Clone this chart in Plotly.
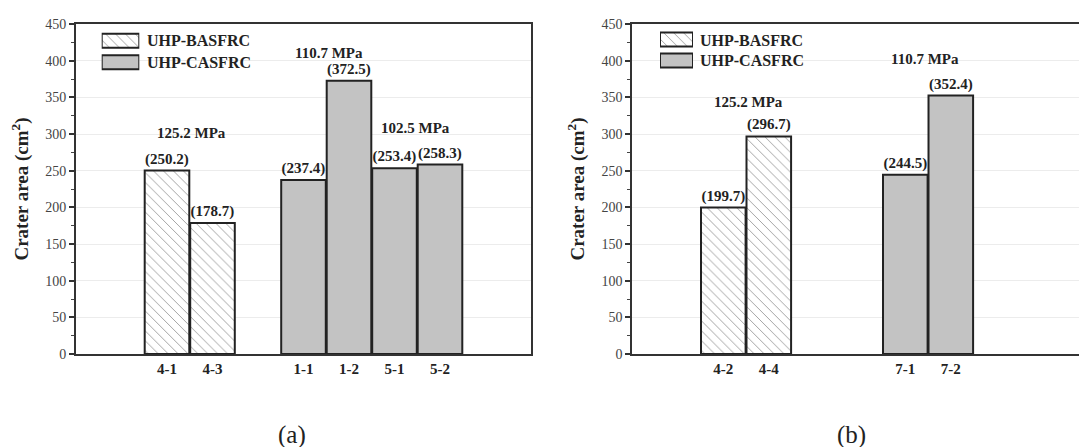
import plotly.graph_objects as go

# ---- data -------------------------------------------------------------
# Panel (a)
a_bas_labels = ["4-1", "4-3"]
a_bas_values = [250.2, 178.7]
a_cas_labels = ["1-1", "1-2", "5-1", "5-2"]
a_cas_values = [237.4, 372.5, 253.4, 258.3]

# Panel (b)
b_bas_labels = ["4-2", "4-4"]
b_bas_values = [199.7, 296.7]
b_cas_labels = ["7-1", "7-2"]
b_cas_values = [244.5, 352.4]

series_names = ["UHP-BASFRC", "UHP-CASFRC"]
y_ticks = [0, 50, 100, 150, 200, 250, 300, 350, 400, 450]

# ---- geometry / styling ----------------------------------------------
W, H = 1079, 447
FONT = "Liberation Serif"
DARK = "#222222"
GREY_FILL = "#c3c3c3"
UNIT_PX = 45.5  # pixels per bar slot


def px_x(p):
    return p / W


def px_y(p):
    return 1 - p / H


def slots(first, n1, gap, n2):
    """x slot positions of two adjacent bar groups separated by `gap` empty slots."""
    g1 = [first + i for i in range(n1)]
    start2 = g1[-1] + 1 + gap
    g2 = [start2 + i for i in range(n2)]
    return g1, g2


a_x1, a_x2 = slots(2, len(a_bas_labels), 1, len(a_cas_labels))
b_x1, b_x2 = slots(2, len(b_bas_labels), 2, len(b_cas_labels))

hatch = dict(shape="\\", fgcolor="#9c9c9c", bgcolor="white", size=7, solidity=0.13)
bar_line = dict(color=DARK, width=2)
val_font = dict(family=FONT, size=15, color=DARK)

fig = go.Figure()


def add_bars(xs, vals, xa, ya, hatched):
    marker = dict(line=bar_line)
    if hatched:
        marker.update(color="white", pattern=hatch)
    else:
        marker.update(color=GREY_FILL)
    fig.add_trace(go.Bar(
        x=xs, y=vals, width=0.98, xaxis=xa, yaxis=ya,
        marker=marker,
        text=[f"<b>({v})</b>" for v in vals],
        textposition="outside", constraintext="none", cliponaxis=False,
        textfont=val_font, showlegend=False, hoverinfo="x+y",
    ))


add_bars(a_x1, a_bas_values, "x", "y", True)
add_bars(a_x2, a_cas_values, "x", "y", False)
add_bars(b_x1, b_bas_values, "x2", "y2", True)
add_bars(b_x2, b_cas_values, "x2", "y2", False)

# legend keys drawn as bars on small helper axes
for xa, ya in (("x3", "y3"), ("x4", "y4")):
    fig.add_trace(go.Bar(x=[1], y=[1], orientation="h", width=0.66, xaxis=xa, yaxis=ya,
                         marker=dict(color="white", pattern=hatch, line=bar_line),
                         showlegend=False, hoverinfo="skip"))
    fig.add_trace(go.Bar(x=[1], y=[0], orientation="h", width=0.66, xaxis=xa, yaxis=ya,
                         marker=dict(color=GREY_FILL, line=bar_line),
                         showlegend=False, hoverinfo="skip"))

# ---- axes ---------------------------------------------------------------
a_left, a_right = 76, 531
b_left = 632.3
top, bottom = 24, 354

ydom = [px_y(bottom), px_y(top)]


def y_axis(mirror):
    return dict(
        domain=ydom, range=[0, 450], tickvals=y_ticks,
        showline=True, linecolor="#333333", linewidth=2, mirror=mirror,
        ticks="outside", ticklen=5, tickwidth=1.5, tickcolor="#333333",
        minor=dict(dtick=25, ticks="outside", ticklen=3, tickwidth=1, tickcolor="#444444", showgrid=False),
        showgrid=True, gridcolor="#ececec", gridwidth=1,
        tickfont=dict(family=FONT, size=14, color="#444444"),
        title=dict(text="<b>Crater area (cm<sup>2</sup>)</b>",
                   font=dict(family=FONT, size=19, color=DARK), standoff=12),
        zeroline=False, automargin=False, fixedrange=True,
    )


def x_axis(dom, rng, vals, labels):
    return dict(
        domain=dom, range=rng, tickvals=vals, ticktext=[f"<b>{t}</b>" for t in labels],
        showline=True, linecolor="#333333", linewidth=2, mirror=True,
        ticks="", showgrid=False, zeroline=False, automargin=False,
        tickfont=dict(family=FONT, size=15, color=DARK), fixedrange=True,
    )


def key_axes(x0, x1, ytop, ybot):
    common = dict(visible=False, showticklabels=False, fixedrange=True, showgrid=False, zeroline=False)
    xa = dict(domain=[px_x(x0), px_x(x1)], range=[0, 1], **common)
    ya = dict(domain=[px_y(ybot), px_y(ytop)], range=[-0.5, 1.5], **common)
    return xa, ya


k3x, k3y = key_axes(101.7, 139.3, 30.0, 73.0)
k4x, k4y = key_axes(660.0, 693.0, 29.0, 71.0)

b_range_max = (W - b_left) / UNIT_PX

fig.update_layout(
    width=W, height=H, margin=dict(l=0, r=0, t=0, b=0),
    template="none", paper_bgcolor="white", plot_bgcolor="white",
    barmode="overlay", showlegend=False,
    xaxis=x_axis([px_x(a_left), px_x(a_right)], [0, 10], a_x1 + a_x2, a_bas_labels + a_cas_labels),
    yaxis=y_axis(True),
    xaxis2=x_axis([px_x(b_left), 1.0], [0, b_range_max], b_x1 + b_x2, b_bas_labels + b_cas_labels),
    yaxis2=dict(y_axis(False), anchor="x2"),
    xaxis3=dict(k3x, anchor="y3"), yaxis3=dict(k3y, anchor="x3"),
    xaxis4=dict(k4x, anchor="y4"), yaxis4=dict(k4y, anchor="x4"),
)
fig.layout.xaxis2.anchor = "y2"

# ---- annotations --------------------------------------------------------
ann_font = dict(family=FONT, size=15, color=DARK)
strength_notes = [
    ("x", "y", 2.53, 301, "125.2 MPa"),
    ("x", "y", 5.57, 411, "110.7 MPa"),
    ("x", "y", 7.47, 308, "102.5 MPa"),
    ("x2", "y2", 2.56, 344, "125.2 MPa"),
    ("x2", "y2", 6.43, 402, "110.7 MPa"),
]
for xr, yr, xv, yv, txt in strength_notes:
    fig.add_annotation(x=xv, y=yv, xref=xr, yref=yr, text=f"<b>{txt}</b>",
                       showarrow=False, font=ann_font)

leg_font = dict(family=FONT, size=16, color=DARK)
for x0, rows in ((145, (40.7, 62.2)), (698, (40.0, 60.0))):
    for name, yc in zip(series_names, rows):
        fig.add_annotation(x=px_x(x0), y=px_y(yc), xref="paper", yref="paper",
                           xanchor="left", yanchor="middle", text=f"<b>{name}</b>",
                           showarrow=False, font=leg_font)

cap_font = dict(family=FONT, size=25, color=DARK)
for cx, txt in ((292, "(a)"), (851, "(b)")):
    fig.add_annotation(x=px_x(cx), y=px_y(435), xref="paper", yref="paper",
                       xanchor="center", yanchor="middle", text=txt,
                       showarrow=False, font=cap_font)

fig.write_html("out.html")
